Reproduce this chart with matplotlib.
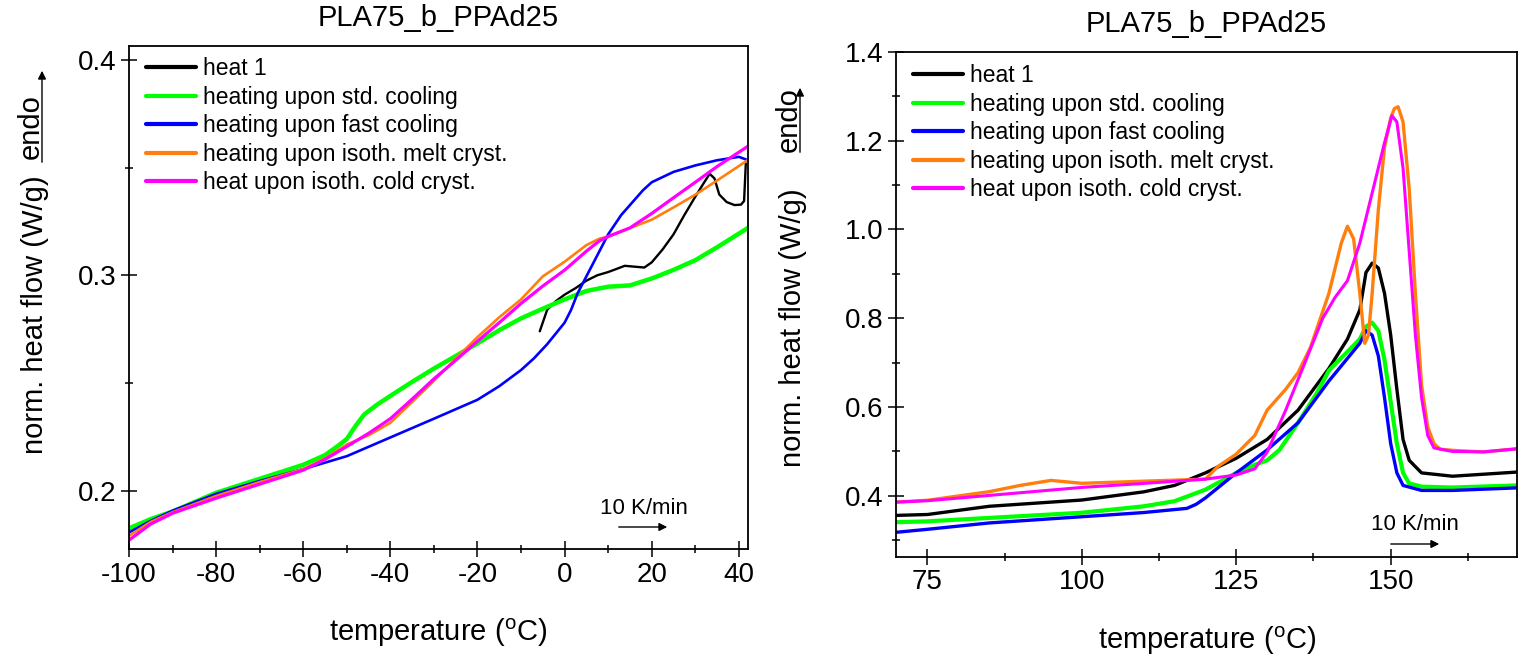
import matplotlib
matplotlib.use('Agg')
import matplotlib.pyplot as plt
from matplotlib.ticker import MultipleLocator

plt.rcParams['font.family'] = ['Liberation Sans', 'DejaVu Sans']
plt.rcParams['mathtext.fontset'] = 'custom'
plt.rcParams['mathtext.rm'] = 'Liberation Sans'
plt.rcParams['axes.unicode_minus'] = False

title = 'PLA75_b_PPAd25'
labels = ['heat 1', 'heating upon std. cooling', 'heating upon fast cooling',
          'heating upon isoth. melt cryst.', 'heat upon isoth. cold cryst.']
colors = ['#000000', '#00ff00', '#0000ff', '#ff7f0e', '#ff00ff']

# ---- left panel: low temperature range ----
l_heat1_x = [-5.7, -4, -2, 0, 2.5, 5, 7.5, 10, 12, 13.8, 16, 18.3, 20, 22.5, 25, 27.5, 30, 32, 33.3,
             34.4, 35.5, 37.2, 39, 40.5, 41.2, 41.6]
l_heat1_y = [0.274, 0.284, 0.288, 0.291, 0.294, 0.2975, 0.300, 0.3015, 0.303, 0.3044, 0.304, 0.3036,
             0.306, 0.312, 0.319, 0.328, 0.3365, 0.343, 0.3471, 0.345, 0.3375, 0.334, 0.3326, 0.3328,
             0.3345, 0.352]
l_std_x = [-100, -95, -90, -80, -70, -60, -55, -52, -50, -48, -46, -43, -40, -35, -30, -25, -20, -15,
           -10, -5, 0, 5, 10, 15, 20, 25, 30, 35, 42]
l_std_y = [0.1825, 0.1868, 0.1903, 0.1990, 0.2055, 0.2120, 0.2165, 0.2208, 0.2240, 0.2300, 0.2354,
           0.2400, 0.2440, 0.2505, 0.2567, 0.2625, 0.2684, 0.2745, 0.2800, 0.2845, 0.2888, 0.2927,
           0.2947, 0.2953, 0.2985, 0.3025, 0.3070, 0.3130, 0.3219]
l_fast_x = [-100, -95, -90, -80, -70, -60, -50, -40, -30, -20, -15, -10, -7, -4, -2, 0, 1.5, 3, 6, 10,
            13, 15, 18, 20, 25, 30, 35, 40, 42]
l_fast_y = [0.1806, 0.1860, 0.1907, 0.1985, 0.2045, 0.2100, 0.2160, 0.2247, 0.2334, 0.2422, 0.2485,
            0.2560, 0.2615, 0.2680, 0.2730, 0.2780, 0.2840, 0.2917, 0.3034, 0.3190, 0.3280, 0.3326,
            0.3395, 0.3432, 0.3480, 0.3510, 0.3534, 0.3550, 0.3535]
l_melt_x = [-100, -95, -90, -80, -70, -60, -55, -50, -45, -40, -35, -30, -25, -20, -15, -10, -5, 0, 5,
            8, 10, 15, 20, 25, 30, 35, 42]
l_melt_y = [0.1790, 0.1855, 0.1900, 0.1975, 0.2040, 0.2100, 0.2150, 0.2214, 0.2257, 0.2315, 0.2412,
            0.2510, 0.2612, 0.2713, 0.2805, 0.2888, 0.2995, 0.3063, 0.3140, 0.3170, 0.3180, 0.3219,
            0.3258, 0.3315, 0.3374, 0.3440, 0.3534]
l_cold_x = [-100, -95, -90, -80, -70, -60, -55, -50, -45, -40, -35, -30, -25, -20, -15, -10, -5, 0, 5,
            8, 10, 15, 20, 25, 30, 35, 42]
l_cold_y = [0.1770, 0.1845, 0.1895, 0.1965, 0.2030, 0.2095, 0.2145, 0.2205, 0.2266, 0.2334, 0.2425,
            0.2519, 0.2605, 0.2694, 0.2780, 0.2869, 0.2950, 0.3024, 0.3112, 0.3160, 0.3180, 0.3220,
            0.3287, 0.3360, 0.3432, 0.3505, 0.3598]

# ---- right panel: melting range ----
r_heat1_x = [70, 75, 85, 100, 110, 115, 120, 125, 130, 135, 140, 143, 145, 146, 147, 148, 149, 150,
             151, 152, 153, 155, 160, 170.5]
r_heat1_y = [0.356, 0.358, 0.3765, 0.3906, 0.409, 0.4235, 0.4517, 0.4847, 0.527, 0.593, 0.687, 0.753,
             0.8186, 0.903, 0.924, 0.913, 0.856, 0.762, 0.640, 0.527, 0.480, 0.4517, 0.4442, 0.4536]
r_std_x = [70, 75, 100, 110, 115, 120, 125, 128, 130, 132, 135, 138, 140, 143, 145, 146, 147, 148, 149,
           150, 151, 152, 153, 155, 160, 170.5]
r_std_y = [0.3407, 0.3426, 0.362, 0.3765, 0.388, 0.414, 0.4517, 0.470, 0.480, 0.5035, 0.5646, 0.6305,
           0.6822, 0.7245, 0.7528, 0.781, 0.790, 0.7716, 0.7057, 0.6117, 0.5176, 0.4517, 0.428, 0.4207,
           0.4188, 0.4235]
r_fast_x = [70, 75, 85, 100, 110, 117, 118.5, 120, 125, 130, 135, 140, 145, 146, 147, 148, 149, 150,
            151, 152, 155, 160, 170.5]
r_fast_y = [0.318, 0.3247, 0.339, 0.353, 0.3624, 0.3718, 0.381, 0.3953, 0.4517, 0.5035, 0.5646, 0.6587,
            0.7434, 0.7716, 0.762, 0.715, 0.621, 0.5176, 0.4517, 0.4235, 0.4122, 0.4122, 0.418]
r_melt_x = [70, 75, 85, 90, 95, 100, 110, 120, 122, 125, 128, 130, 133, 135, 137, 140, 142, 143, 144,
            145, 145.8, 146.4, 147, 148, 149, 150, 150.6, 151.2, 152, 153, 154, 155, 156, 157, 158, 160,
            165, 170.5]
r_melt_y = [0.3859, 0.390, 0.4094, 0.4235, 0.4348, 0.4282, 0.433, 0.4376, 0.4658, 0.494, 0.536, 0.593,
            0.640, 0.6775, 0.734, 0.856, 0.969, 1.007, 0.9786, 0.856, 0.7434, 0.762, 0.856, 1.044, 1.185,
            1.251, 1.272, 1.276, 1.242, 1.091, 0.856, 0.649, 0.555, 0.5176, 0.505, 0.5025, 0.4988, 0.506]
r_cold_x = [70, 75, 100, 110, 120, 125, 128, 130, 133, 136, 139, 141, 143, 145, 147, 149, 150.2, 151,
            152, 153, 154, 155, 156, 157, 160, 165, 170.5]
r_cold_y = [0.386, 0.389, 0.419, 0.428, 0.4376, 0.447, 0.461, 0.4988, 0.593, 0.696, 0.800, 0.847,
            0.8845, 0.969, 1.082, 1.195, 1.256, 1.242, 1.138, 0.950, 0.762, 0.621, 0.536, 0.508, 0.500,
            0.499, 0.506]

left_series = [(l_heat1_x, l_heat1_y), (l_std_x, l_std_y), (l_fast_x, l_fast_y),
               (l_melt_x, l_melt_y), (l_cold_x, l_cold_y)]
right_series = [(r_heat1_x, r_heat1_y), (r_std_x, r_std_y), (r_fast_x, r_fast_y),
                (r_melt_x, r_melt_y), (r_cold_x, r_cold_y)]
left_lw = [1.7, 3.2, 1.9, 1.9, 2.3]
right_lw = [2.4, 3.0, 2.4, 2.4, 2.2]

W, H = 1525, 657
fig = plt.figure(figsize=(W / 100, H / 100), dpi=100)


def px_axes(l, t, r, b):
    return fig.add_axes([l / W, 1 - b / H, (r - l) / W, (b - t) / H])


def style_axes(ax, xmaj, xmin, ymaj, ymin):
    ax.xaxis.set_major_locator(MultipleLocator(xmaj))
    ax.xaxis.set_minor_locator(MultipleLocator(xmin))
    ax.yaxis.set_major_locator(MultipleLocator(ymaj))
    ax.yaxis.set_minor_locator(MultipleLocator(ymin))
    ax.tick_params(which='both', direction='inout', top=False, right=False, width=1.1)
    ax.tick_params(which='major', length=12, labelsize=20, pad=3)
    ax.tick_params(which='minor', length=6)
    for sp in ax.spines.values():
        sp.set_linewidth(1.3)


def draw_panel(ax, series, lws, legend_xy):
    for (x, y), c, lw, lab in zip(series, colors, lws, labels):
        ax.plot(x, y, color=c, lw=lw, label=lab, solid_joinstyle='round', solid_capstyle='round')
    leg = ax.legend(loc='upper left', bbox_to_anchor=legend_xy, frameon=False, fontsize=16.5,
                    handlelength=2.2, handletextpad=0.3, labelspacing=0.24, borderaxespad=0)
    for h in leg.legend_handles:
        h.set_linewidth(3)
    ax.set_title(title, fontsize=21, pad=14)
    ax.set_xlabel(r'temperature ($^{\mathrm{o}}$C)', fontsize=21, labelpad=21)


# left
ax1 = px_axes(129, 45.7, 748, 549)
draw_panel(ax1, left_series, left_lw, (0.012, 0.995))
ax1.set_xlim(-100, 42.1)
ax1.set_ylim(0.1729, 0.4066)
style_axes(ax1, 20, 10, 0.1, 0.05)

# right
ax2 = px_axes(896, 51.7, 1517.3, 556.7)
draw_panel(ax2, right_series, right_lw, (0.012, 0.993))
ax2.set_xlim(69.9, 170.5)
ax2.set_ylim(0.263, 1.4)
style_axes(ax2, 25, 12.5, 0.2, 0.1)
ax2.yaxis.set_major_formatter(plt.FormatStrFormatter('%.1f'))

# y labels with "endo" arrow
for lx, ly, ex, ey, ax_x, a0, a1 in [(35, 315, 31, 127, 42, 165, 68),
                                     (793, 328, 789, 120, 800, 155, 85)]:
    fig.text(lx / W, 1 - ly / H, 'norm. heat flow (W/g)', rotation=90, fontsize=21,
             ha='center', va='center')
    fig.text(ex / W, 1 - ey / H, 'endo', rotation=90, fontsize=21, ha='center', va='center')
    fig.add_artist(matplotlib.patches.FancyArrowPatch(
        (ax_x / W, 1 - a0 / H), (ax_x / W, 1 - a1 / H), transform=fig.transFigure,
        arrowstyle='-|>', mutation_scale=12, lw=1.0, color='black'))

# heating-rate marks
for tx, ty, x0, x1, ay in [(644, 508, 616, 670, 527), (1415, 525, 1388, 1442, 544)]:
    fig.text(tx / W, 1 - ty / H, '10 K/min', fontsize=16, ha='center', va='center')
    fig.add_artist(matplotlib.patches.FancyArrowPatch(
        (x0 / W, 1 - ay / H), (x1 / W, 1 - ay / H), transform=fig.transFigure,
        arrowstyle='-|>', mutation_scale=12, lw=1.0, color='black'))

fig.savefig('out.png', dpi=100)
